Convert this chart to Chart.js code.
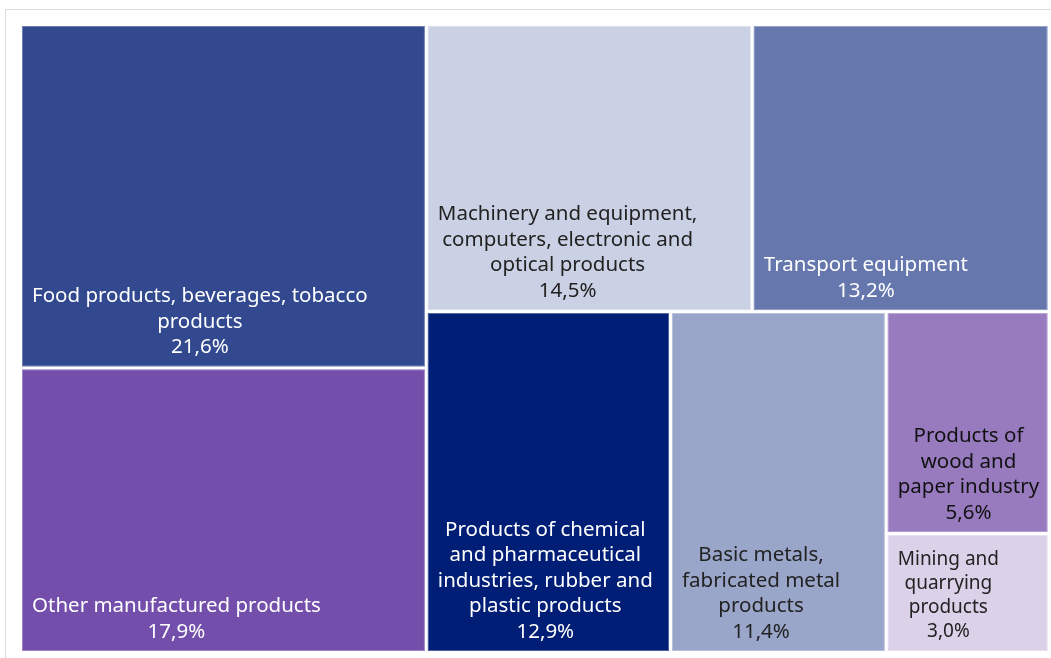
<!DOCTYPE html>
<html>
<head>
<meta charset="utf-8">
<script src="https://cdn.jsdelivr.net/npm/chart.js@4.4.1/dist/chart.umd.min.js"></script>
<style>
  body { margin: 0; background: #fff; }
  #wrap { position: relative; width: 1051px; height: 658px; overflow: hidden; }
  #frame { position: absolute; left: 5px; top: 9px; width: 1100px; height: 700px; border: 1px solid #dddddd; }
  #c { position: absolute; left: 0; top: 0; }
</style>
</head>
<body>
<div id="wrap">
  <div id="frame"></div>
  <canvas id="c" width="1051" height="658"></canvas>
</div>
<script>
// sectors (label lines as shown on the chart)
const sectors = [
  ["Food products, beverages, tobacco", "products"],
  ["Other manufactured products"],
  ["Machinery and equipment,", "computers, electronic and", "optical products"],
  ["Transport equipment"],
  ["Products of chemical", "and pharmaceutical", "industries, rubber and", "plastic products"],
  ["Basic metals,", "fabricated metal", "products"],
  ["Products of", "wood and", "paper industry"],
  ["Mining and", "quarrying", "products"]
];
const shares = [21.6, 17.9, 14.5, 13.2, 12.9, 11.4, 5.6, 3.0];
const cellColors = ["#32498f", "#734fab", "#cbd1e4", "#6677ae", "#001e75", "#99a6c9", "#987bbf", "#dbd2ea"];
const textColors = ["#fff", "#fff", "#222", "#fff", "#fff", "#222", "#111", "#222"];

// squarified treemap layout, result in 0..1 data units of the x / y scales
function squarify(vals, W, H) {
  const total = vals.reduce((a, b) => a + b, 0);
  const areas = vals.map(v => v / total * W * H);
  const out = [];
  let x = 0, y = 0, w = W, h = H;
  let row = [];
  const worst = (r, s) => {
    const sum = r.reduce((a, b) => a + b.a, 0);
    const mx = Math.max(...r.map(o => o.a)), mn = Math.min(...r.map(o => o.a));
    return Math.max(s * s * mx / (sum * sum), sum * sum / (s * s * mn));
  };
  const place = (r) => {
    const sum = r.reduce((a, b) => a + b.a, 0);
    if (w >= h) {
      const cw = sum / h;
      let yy = y;
      r.forEach(o => { const ch = o.a / cw; out[o.i] = {x0: x, y0: yy, x1: x + cw, y1: yy + ch}; yy += ch; });
      x += cw; w -= cw;
    } else {
      const rh = sum / w;
      let xx = x;
      r.forEach(o => { const cw = o.a / rh; out[o.i] = {x0: xx, y0: y, x1: xx + cw, y1: y + rh}; xx += cw; });
      y += rh; h -= rh;
    }
  };
  areas.forEach((a, i) => {
    const item = {a: a, i: i};
    const s = Math.min(w, h);
    if (row.length === 0 || worst(row.concat([item]), s) <= worst(row, s)) {
      row.push(item);
    } else {
      place(row);
      row = [item];
    }
  });
  if (row.length) place(row);
  return out.map(r => ({x0: r.x0 / W, y0: r.y0 / H, x1: r.x1 / W, y1: r.y1 / H}));
}

const treemapPlugin = {
  id: 'treemap',
  afterDatasetsDraw(chart) {
    const {ctx, chartArea, scales} = chart;
    const cells = squarify(shares, chartArea.width, chartArea.height);
    const gap = 1.5;
    cells.forEach((c, i) => {
      const l = scales.x.getPixelForValue(c.x0) + gap;
      const r = scales.x.getPixelForValue(c.x1) - gap;
      const t = scales.y.getPixelForValue(c.y0) + gap;
      const b = scales.y.getPixelForValue(c.y1) - gap;
      ctx.save();
      ctx.fillStyle = cellColors[i];
      ctx.fillRect(l, t, r - l, b - t);
      ctx.strokeStyle = 'rgba(255,255,255,0.3)';
      ctx.lineWidth = 1;
      ctx.strokeRect(l + 0.5, t + 0.5, r - l - 1, b - t - 1);

      // label: block at left padding, lines centred inside the block, bottom aligned
      const lines = sectors[i].concat([shares[i].toFixed(1).replace('.', ',') + '%']);
      const small = (r - l) < 170 && (b - t) < 150;
      ctx.font = (small ? 19 : 20.5) + 'px "Noto Sans"';
      ctx.fillStyle = textColors[i];
      ctx.textAlign = 'center';
      ctx.textBaseline = 'middle';
      const bw = Math.max(...lines.map(s => ctx.measureText(s).width));
      const cx = l + 10 + bw / 2;
      const lh = small ? 24.3 : 25.5;
      lines.forEach((s, k) => {
        ctx.fillText(s, cx, b - 19 - (lines.length - 1 - k) * lh);
      });
      ctx.restore();
    });
  }
};

const chart = new Chart(document.getElementById('c').getContext('2d'), {
  type: 'scatter',
  data: { datasets: [{ data: [] }] },
  options: {
    responsive: false,
    animation: false,
    devicePixelRatio: 1,
    layout: { padding: { left: 20.5, top: 24.5, right: 2, bottom: 5.5 } },
    scales: {
      x: { type: 'linear', min: 0, max: 1, display: false },
      y: { type: 'linear', min: 0, max: 1, reverse: true, display: false }
    },
    plugins: { legend: { display: false }, tooltip: { enabled: false } }
  },
  plugins: [treemapPlugin]
});
</script>
</body>
</html>
